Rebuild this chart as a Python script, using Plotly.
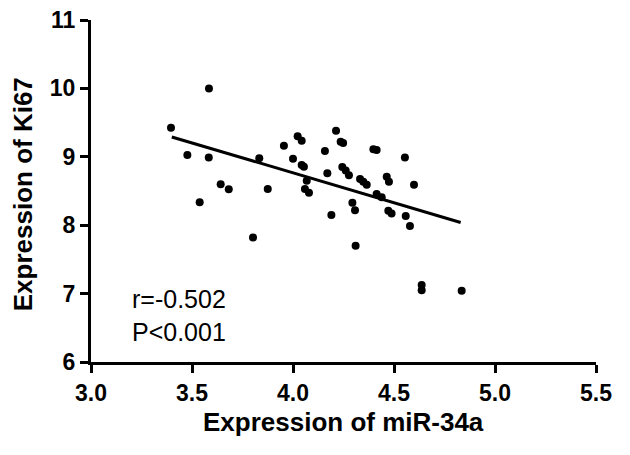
import plotly.graph_objects as go

# miR-34a expression (x) vs Ki67 expression (y)
mir34a = [3.396, 3.477, 3.538, 3.584, 3.583, 3.642, 3.682, 3.802, 3.833, 3.875,
          3.955, 4.000, 4.023, 4.043, 4.043, 4.054, 4.068, 4.059, 4.079, 4.158,
          4.170, 4.190, 4.213, 4.236, 4.248, 4.244, 4.261, 4.277, 4.294, 4.307,
          4.310, 4.332, 4.348, 4.365, 4.398, 4.414, 4.414, 4.439, 4.464, 4.475,
          4.472, 4.488, 4.554, 4.558, 4.579, 4.599, 4.637, 4.637, 4.835]
ki67 = [9.425, 9.026, 8.335, 10.00, 8.99, 8.60, 8.525, 7.82, 8.98, 8.53,
        9.16, 8.97, 9.30, 9.235, 8.88, 8.855, 8.65, 8.53, 8.475, 9.085,
        8.76, 8.15, 9.38, 9.22, 9.20, 8.85, 8.80, 8.73, 8.33, 8.22,
        7.70, 8.675, 8.636, 8.59, 9.11, 9.10, 8.456, 8.41, 8.71, 8.636,
        8.21, 8.17, 8.99, 8.135, 7.99, 8.59, 7.125, 7.05, 7.04]

# regression line end points
fit_x = [3.40, 4.83]
fit_y = [9.29, 8.04]

x_ticks = [3.0, 3.5, 4.0, 4.5, 5.0, 5.5]
y_ticks = [6, 7, 8, 9, 10, 11]

stats_text = "r=-0.502<br>P<0.001"
FONT = "Liberation Sans, Arial"

fig = go.Figure()

fig.add_trace(go.Scatter(
    x=mir34a, y=ki67,
    mode="markers",
    marker=dict(color="black", size=8),
    showlegend=False,
))

fig.add_trace(go.Scatter(
    x=fit_x, y=fit_y,
    mode="lines",
    line=dict(color="black", width=3),
    showlegend=False,
))

# r / P values
fig.add_annotation(
    x=0.077, y=0.136, xref="paper", yref="paper",
    xanchor="left", yanchor="middle", align="left",
    text=stats_text, showarrow=False,
    font=dict(family=FONT, size=25, color="black"),
)

# axis titles as annotations so the plot area stays put
fig.add_annotation(
    x=0.5, y=-0.176, xref="paper", yref="paper",
    xanchor="center", yanchor="middle",
    text="<b>Expression of miR-34a</b>", showarrow=False,
    font=dict(family=FONT, size=26, color="black"),
)
fig.add_annotation(
    x=-0.133, y=0.49, xref="paper", yref="paper",
    xanchor="center", yanchor="middle", textangle=-90,
    text="<b>Expression of Ki67</b>", showarrow=False,
    font=dict(family=FONT, size=26, color="black"),
)

tick_font = dict(family=FONT, size=23, color="black")

# page body adds an 8px offset, so margins are trimmed by that much
fig.update_layout(
    width=630, height=455,
    margin=dict(l=83, r=42, t=12, b=101),
    plot_bgcolor="white",
    paper_bgcolor="white",
    font=dict(family=FONT, color="black"),
)

fig.update_xaxes(
    range=[3.0, 5.5], tickvals=x_ticks,
    ticktext=[f"<b>{v:.1f}</b>" for v in x_ticks],
    showline=True, linecolor="black", linewidth=3,
    ticks="outside", ticklen=8, tickwidth=3, tickcolor="black",
    showgrid=False, zeroline=False, tickfont=tick_font, automargin=False,
    ticklabeloverflow="allow",
)

fig.update_yaxes(
    range=[6, 11], tickvals=y_ticks,
    ticktext=[f"<b>{v}</b>" for v in y_ticks],
    showline=True, linecolor="black", linewidth=3,
    ticks="outside", ticklen=8, tickwidth=3, tickcolor="black",
    showgrid=False, zeroline=False, tickfont=tick_font, automargin=False,
    ticklabeloverflow="allow",
)

fig.write_html("out.html")
